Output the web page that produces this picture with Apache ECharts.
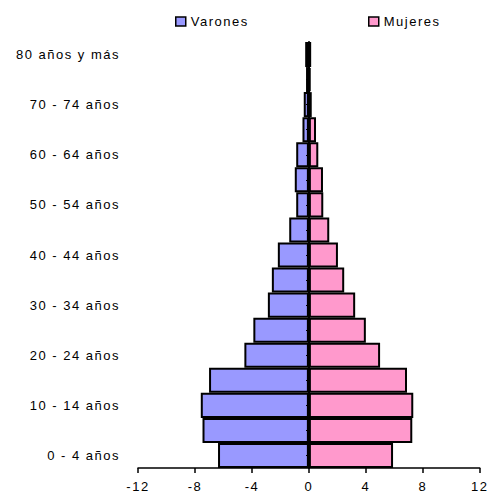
<!DOCTYPE html>
<html>
<head>
<meta charset="utf-8">
<script src="https://cdn.jsdelivr.net/npm/echarts@6/dist/echarts.min.js"></script>
<style>
html, body { margin: 0; padding: 0; background: #fff; }
#chart { width: 490px; height: 498px; }
#chart text { letter-spacing: 1.5px; }
</style>
</head>
<body>
<div id="chart"></div>
<script>
const categories = ['0 - 4 años', '5 - 9 años', '10 - 14 años', '15 - 19 años', '20 - 24 años', '25 - 29 años',
  '30 - 34 años', '35 - 39 años', '40 - 44 años', '45 - 49 años', '50 - 54 años', '55 - 59 años',
  '60 - 64 años', '65 - 69 años', '70 - 74 años', '75 - 79 años', '80 años y más'];
const varones = [-6.38, -7.47, -7.59, -7.01, -4.53, -3.9, -2.88, -2.6, -2.18, -1.38, -0.89, -0.99, -0.89, -0.45, -0.36, -0.2, -0.26];
const mujeres = [5.91, 7.26, 7.33, 6.89, 5.0, 4.0, 3.25, 2.48, 2.04, 1.43, 1.01, 0.99, 0.66, 0.5, 0.2, 0.12, 0.16];
const xTicks = { min: -12, max: 12, interval: 4 };

const font = "'Liberation Sans', Arial, sans-serif";
const gridLeft = 138, gridRight = 10, W = 490;
const plotW = W - gridLeft - gridRight;
const zeroOffset = -plotW * (0 - xTicks.min) / (xTicks.max - xTicks.min);

const chart = echarts.init(document.getElementById('chart'), null, { renderer: 'svg' });
chart.setOption({
  animation: false,
  backgroundColor: '#fff',
  textStyle: { fontFamily: font },
  legend: [
    {
      data: ['Varones'], left: 175, top: 15, padding: 0, itemWidth: 10, itemHeight: 9, icon: 'rect',
      textStyle: { fontSize: 13, color: '#000', fontFamily: font },
      itemStyle: { borderColor: '#000', borderWidth: 1.5 }
    },
    {
      data: ['Mujeres'], left: 368, top: 15, padding: 0, itemWidth: 10, itemHeight: 9, icon: 'rect',
      textStyle: { fontSize: 13, color: '#000', fontFamily: font },
      itemStyle: { borderColor: '#000', borderWidth: 1.5 }
    }
  ],
  grid: { left: gridLeft, right: gridRight, top: 42, bottom: 30, containLabel: false },
  xAxis: {
    type: 'value', min: xTicks.min, max: xTicks.max, interval: xTicks.interval,
    splitLine: { show: false },
    axisLine: { show: true, onZero: false, lineStyle: { color: '#000', width: 1.5 } },
    axisTick: { show: true, length: 5, lineStyle: { color: '#000', width: 1.5 } },
    axisLabel: { fontSize: 13, color: '#000', margin: 12, fontFamily: font }
  },
  yAxis: [
    {
      type: 'category', data: categories, position: 'left',
      axisLine: { show: false }, axisTick: { show: false },
      axisLabel: { interval: 1, fontSize: 13, color: '#000', margin: 18, fontFamily: font }
    },
    {
      type: 'category', data: categories, position: 'left', z: 10, offset: zeroOffset,
      axisLine: { show: true, onZero: false, lineStyle: { color: '#000', width: 2 } },
      axisTick: { show: true, alignWithLabel: true, length: 3, lineStyle: { color: '#000', width: 1 } },
      axisLabel: { show: false }
    }
  ],
  series: [
    {
      name: 'Varones', type: 'bar', data: varones, yAxisIndex: 0,
      barCategoryGap: 0, barGap: '-100%',
      itemStyle: { color: '#9999FF', borderColor: '#000', borderWidth: 2 }
    },
    {
      name: 'Mujeres', type: 'bar', data: mujeres, yAxisIndex: 0,
      barCategoryGap: 0, barGap: '-100%',
      itemStyle: { color: '#FF99CC', borderColor: '#000', borderWidth: 2 }
    }
  ]
});
</script>
</body>
</html>
